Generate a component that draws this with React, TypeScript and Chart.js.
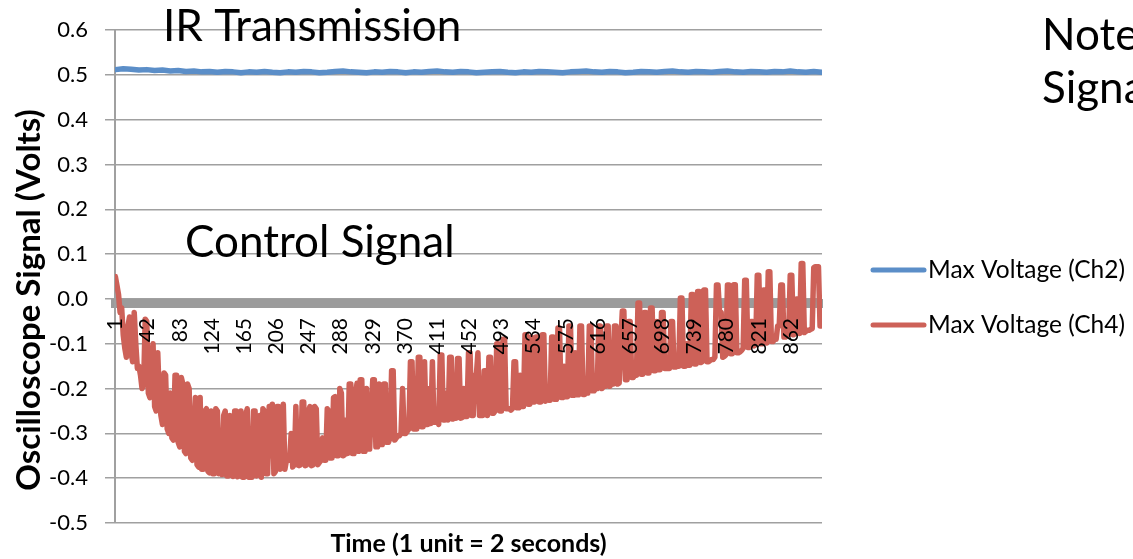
import React, { useEffect, useRef } from 'react';
import { Chart, registerables } from 'chart.js';

Chart.register(...registerables);

const FONT = 'Lato, "Open Sans", sans-serif';

const SERIES_LABELS = ['Max Voltage (Ch2)', 'Max Voltage (Ch4)'];
const SERIES_COLORS = ['#5b8ec8', '#cd6158'];

const TIME_TICKS = [1, 42, 83, 124, 165, 206, 247, 288, 329, 370, 411, 452, 493, 534, 575, 616, 657, 698, 739, 780, 821, 862];

const Y_TITLE = 'Oscilloscope Signal (Volts)';
const X_TITLE = 'Time (1 unit = 2 seconds)';
const PANEL_TEXTS = ['IR Transmission', 'Control Signal', 'Note', 'Signa'];

// sample spacing (time units) for each series
const CH2_STEP = 10;
const CH4_STEP = 2;

// Max Voltage (Ch2) — samples 1, 11, 21, ... 901
const CH2_VALUES = [
  0.512, 0.514, 0.513, 0.511, 0.512, 0.510, 0.511, 0.509, 0.510, 0.508,
  0.509, 0.507, 0.508, 0.506, 0.508, 0.507, 0.505, 0.507, 0.506, 0.508,
  0.506, 0.505, 0.507, 0.506, 0.508, 0.507, 0.505, 0.506, 0.508, 0.509,
  0.507, 0.506, 0.505, 0.507, 0.506, 0.508, 0.507, 0.505, 0.507, 0.506,
  0.508, 0.509, 0.507, 0.506, 0.508, 0.507, 0.505, 0.506, 0.507, 0.508,
  0.506, 0.505, 0.507, 0.506, 0.508, 0.507, 0.506, 0.505, 0.507, 0.508,
  0.509, 0.507, 0.506, 0.508, 0.507, 0.505, 0.506, 0.508, 0.507, 0.506,
  0.508, 0.509, 0.507, 0.506, 0.508, 0.507, 0.506, 0.508, 0.509, 0.507,
  0.506, 0.508, 0.507, 0.506, 0.508, 0.507, 0.509, 0.507, 0.506, 0.508,
  0.506,
];

// Max Voltage (Ch4) — samples 1, 3, 5, ... 901
const CH4_VALUES = [
  0.05, 0.03, 0.01, -0.03, -0.02, -0.08, -0.11, -0.13, -0.06, -0.04, -0.12, -0.14, -0.03, -0.10, -0.155, -0.15, -0.17, -0.20, -0.19, -0.045,
  -0.05, -0.21, -0.22, -0.13, -0.10, -0.24, -0.25, -0.12, -0.22, -0.26, -0.28, -0.165, -0.17, -0.29, -0.30, -0.21, -0.31, -0.315, -0.17, -0.17,
  -0.32, -0.33, -0.175, -0.19, -0.34, -0.345, -0.19, -0.20, -0.355, -0.36, -0.30, -0.22, -0.37, -0.375, -0.22, -0.38, -0.38, -0.25, -0.245, -0.385,
  -0.388, -0.25, -0.39, -0.39, -0.245, -0.25, -0.39, -0.30, -0.392, -0.26, -0.25, -0.395, -0.395, -0.26, -0.33, -0.396, -0.25, -0.25, -0.397, -0.36,
  -0.25, -0.398, -0.398, -0.26, -0.245, -0.398, -0.30, -0.398, -0.25, -0.25, -0.395, -0.39, -0.26, -0.398, -0.245, -0.25, -0.39, -0.39, -0.24, -0.35,
  -0.235, -0.39, -0.385, -0.24, -0.24, -0.38, -0.30, -0.235, -0.38, -0.36, -0.35, -0.36, -0.30, -0.375, -0.37, -0.24, -0.37, -0.372, -0.37, -0.23,
  -0.23, -0.372, -0.37, -0.25, -0.24, -0.372, -0.37, -0.24, -0.245, -0.37, -0.365, -0.36, -0.31, -0.36, -0.36, -0.245, -0.25, -0.355, -0.355, -0.22,
  -0.218, -0.35, -0.35, -0.20, -0.21, -0.35, -0.348, -0.27, -0.345, -0.19, -0.19, -0.345, -0.345, -0.21, -0.188, -0.34, -0.18, -0.18, -0.34, -0.34,
  -0.20, -0.335, -0.335, -0.25, -0.18, -0.18, -0.33, -0.33, -0.19, -0.325, -0.325, -0.19, -0.19, -0.32, -0.32, -0.31, -0.16, -0.16, -0.315, -0.31,
  -0.305, -0.305, -0.30, -0.20, -0.30, -0.30, -0.295, -0.29, -0.14, -0.14, -0.29, -0.29, -0.29, -0.13, -0.13, -0.285, -0.285, -0.14, -0.28, -0.28,
  -0.20, -0.278, -0.14, -0.275, -0.275, -0.27, -0.28, -0.125, -0.125, -0.27, -0.27, -0.21, -0.27, -0.13, -0.13, -0.268, -0.266, -0.266, -0.133, -0.133,
  -0.266, -0.265, -0.20, -0.262, -0.262, -0.12, -0.12, -0.26, -0.26, -0.17, -0.17, -0.12, -0.26, -0.26, -0.26, -0.16, -0.16, -0.26, -0.13, -0.13,
  -0.255, -0.255, -0.25, -0.10, -0.10, -0.25, -0.25, -0.09, -0.09, -0.245, -0.245, -0.245, -0.248, -0.245, -0.14, -0.14, -0.243, -0.243, -0.17, -0.24,
  -0.24, -0.08, -0.08, -0.235, -0.235, -0.085, -0.23, -0.23, -0.085, -0.085, -0.23, -0.23, -0.08, -0.08, -0.228, -0.20, -0.226, -0.226, -0.085, -0.085,
  -0.224, -0.224, -0.065, -0.065, -0.22, -0.22, -0.15, -0.218, -0.218, -0.06, -0.06, -0.215, -0.215, -0.12, -0.214, -0.214, -0.06, -0.06, -0.213, -0.213,
  -0.21, -0.21, -0.06, -0.06, -0.205, -0.205, -0.20, -0.20, -0.06, -0.06, -0.20, -0.195, -0.195, -0.06, -0.06, -0.195, -0.19, -0.19, -0.06, -0.06,
  -0.19, -0.188, -0.10, -0.027, -0.027, -0.18, -0.18, -0.05, -0.05, -0.175, -0.175, -0.17, -0.17, -0.009, -0.009, -0.168, -0.168, -0.03, -0.03, -0.165,
  -0.165, -0.02, -0.02, -0.16, -0.16, -0.05, -0.158, -0.158, -0.03, -0.03, -0.155, -0.155, -0.155, -0.155, -0.05, -0.05, -0.152, -0.152, -0.15, -0.15,
  0.002, 0.002, -0.15, -0.15, -0.10, -0.148, -0.148, 0.01, 0.01, -0.145, -0.145, 0.017, 0.017, -0.142, -0.14, 0.02, 0.02, -0.14, -0.14, -0.137,
  -0.135, -0.135, -0.13, 0.031, 0.031, -0.03, -0.03, -0.13, -0.128, -0.125, 0.031, 0.031, -0.122, -0.122, 0.032, 0.032, -0.12, -0.12, -0.118, -0.115,
  -0.11, 0.042, 0.042, -0.108, -0.108, -0.05, -0.05, -0.105, -0.10, 0.053, 0.053, -0.10, -0.10, 0.02, 0.02, -0.098, 0.061, 0.061, -0.095, -0.095,
  -0.09, -0.09, -0.06, -0.06, 0.031, 0.031, -0.085, -0.085, -0.082, -0.08, 0.053, 0.053, -0.08, -0.078, 0.0, 0.0, -0.077, 0.079, 0.079, -0.075,
  -0.072, -0.07, -0.07, -0.068, -0.066, 0.07, 0.072, 0.072, 0.072, -0.06, -0.06,
];

const X_MIN = 0.5;
const X_MAX = 901.5;
const Y_MIN = -0.5;
const Y_MAX = 0.6;
const AXIS_BAND_VALUE = -0.011;

const toPoints = (values: number[], step: number) =>
  values.map((v, i) => ({ x: 1 + i * step, y: v }));

const overlayPlugin = {
  id: 'overlayText',
  afterDraw(chart: any) {
    const { ctx, chartArea } = chart;
    ctx.save();
    ctx.fillStyle = '#000';
    ctx.textBaseline = 'alphabetic';
    ctx.textAlign = 'left';
    ctx.font = `44px ${FONT}`;
    ctx.fillText(PANEL_TEXTS[0], 163, 41);
    ctx.fillText(PANEL_TEXTS[1], 185, 257);
    ctx.fillText(PANEL_TEXTS[2], 1042, 50);
    ctx.fillText(PANEL_TEXTS[3], 1042, 103);

    // x axis title
    ctx.font = `bold 25px ${FONT}`;
    ctx.textAlign = 'center';
    ctx.fillText(X_TITLE, (chartArea.left + chartArea.right) / 2, 552);

    // y axis title
    ctx.save();
    ctx.translate(29, 300);
    ctx.rotate(-Math.PI / 2);
    ctx.font = `bold 33px ${FONT}`;
    ctx.textAlign = 'center';
    ctx.textBaseline = 'middle';
    ctx.fillText(Y_TITLE, 0, 0);
    ctx.restore();

    // legend
    ctx.textAlign = 'left';
    ctx.textBaseline = 'middle';
    ctx.font = `24.5px ${FONT}`;
    chart.data.datasets.forEach((ds: any, i: number) => {
      const y = 270 + i * 55;
      ctx.strokeStyle = ds.borderColor;
      ctx.lineWidth = 5;
      ctx.lineCap = 'round';
      ctx.beginPath();
      ctx.moveTo(873, y);
      ctx.lineTo(924, y);
      ctx.stroke();
      ctx.fillStyle = '#000';
      ctx.fillText(ds.label, 928, y);
    });
    ctx.restore();
  },
};

export default function App() {
  const canvasRef = useRef<HTMLCanvasElement | null>(null);

  useEffect(() => {
    if (!canvasRef.current) return;
    const gridColor = '#a0a0a0';
    const chart = new Chart(canvasRef.current, {
      type: 'line',
      data: {
        datasets: [
          {
            label: SERIES_LABELS[0],
            data: toPoints(CH2_VALUES, CH2_STEP),
            borderColor: SERIES_COLORS[0],
            backgroundColor: SERIES_COLORS[0],
            borderWidth: 5.5,
            pointRadius: 0,
            tension: 0,
            borderJoinStyle: 'round',
            borderCapStyle: 'round',
          },
          {
            label: SERIES_LABELS[1],
            data: toPoints(CH4_VALUES, CH4_STEP),
            borderColor: SERIES_COLORS[1],
            backgroundColor: SERIES_COLORS[1],
            borderWidth: 5.5,
            pointRadius: 0,
            tension: 0,
            borderJoinStyle: 'round',
            borderCapStyle: 'round',
          },
        ],
      },
      options: {
        animation: false,
        responsive: true,
        maintainAspectRatio: false,
        devicePixelRatio: 1,
        layout: { padding: { left: 0, top: 23, right: 311, bottom: 36 } },
        plugins: {
          legend: { display: false },
          title: { display: false },
          tooltip: { enabled: false },
        },
        scales: {
          x: {
            type: 'linear',
            min: X_MIN,
            max: X_MAX,
            position: { y: AXIS_BAND_VALUE },
            grid: { display: false },
            border: { display: true, color: '#9b9b9b', width: 9 },
            ticks: { display: false },
          },
          xLabels: {
            type: 'linear',
            axis: 'x',
            min: X_MIN,
            max: X_MAX,
            position: { y: 0 },
            grid: { display: false },
            border: { display: false },
            afterBuildTicks: (scale: any) => {
              scale.ticks = TIME_TICKS.map((v) => ({ value: v }));
            },
            ticks: {
              z: 2,
              autoSkip: false,
              minRotation: 90,
              maxRotation: 90,
              padding: 11,
              color: '#000',
              font: { family: FONT, size: 21 },
              callback: (v: any) => String(v),
            },
          },
          y: {
            type: 'linear',
            position: 'left',
            min: Y_MIN,
            max: Y_MAX,
            afterFit: (scale: any) => {
              scale.width = 115;
            },
            grid: { color: gridColor, lineWidth: 1.5, tickLength: 10, drawTicks: true },
            border: { display: true, color: gridColor, width: 2 },
            ticks: {
              stepSize: 0.1,
              padding: 17,
              color: '#000',
              font: { family: FONT, size: 22 },
              callback: (v: any) => (Math.abs(Number(v)) < 1e-9 ? '0.0' : Number(v).toFixed(1)),
            },
            title: { display: false },
          },
        },
      },
      plugins: [overlayPlugin],
    });
    return () => chart.destroy();
  }, []);

  return (
    <div style={{ position: 'absolute', left: 0, top: 0, width: 1133, height: 559, background: '#fff' }}>
      <canvas ref={canvasRef} />
    </div>
  );
}
